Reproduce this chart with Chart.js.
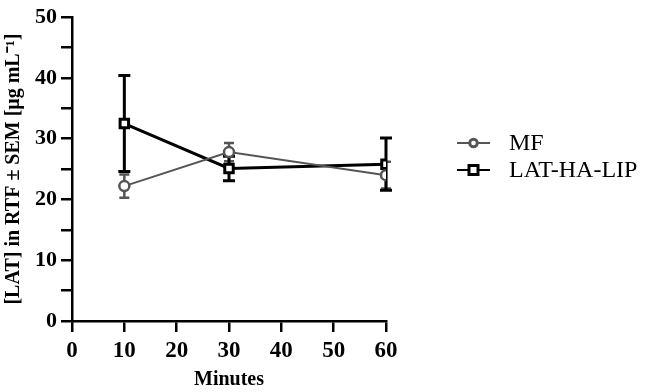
<!DOCTYPE html>
<html>
<head>
<meta charset="utf-8">
<script src="https://cdn.jsdelivr.net/npm/chart.js@4"></script>
<style>
html, body { margin: 0; padding: 0; background: #fff; }
</style>
</head>
<body>
<canvas id="latChart" width="645" height="392"></canvas>
<script>
// sampling times (minutes)
var minutes = [10, 30, 60];

// MF: mean and SEM
var mfMean = [22.2, 27.8, 24.0];
var mfSem = [1.9, 1.5, 2.2];

// LAT-HA-LIP: mean and SEM
var lipMean = [32.5, 25.1, 25.8];
var lipSem = [7.9, 2.0, 4.3];

var seriesNames = ['MF', 'LAT-HA-LIP'];
var semLists = [mfSem, lipSem];

var serif = "'Liberation Serif', 'Times New Roman', serif";

function points(xs, ys) {
    return xs.map(function (x, i) { return { x: x, y: ys[i] }; });
}

// draws the ± SEM whiskers behind the markers
var errorBars = {
    id: 'errorBars',
    beforeDatasetsDraw: function (chart) {
        var ctx = chart.ctx;
        var xs = chart.scales.x, ys = chart.scales.y;
        chart.data.datasets.forEach(function (ds, i) {
            var sem = semLists[i];
            var cap = i === 0 ? 5 : 6;
            ctx.save();
            ctx.strokeStyle = ds.borderColor;
            ctx.lineWidth = i === 0 ? 2.5 : 3;
            ds.data.forEach(function (p, j) {
                var x = xs.getPixelForValue(p.x);
                var top = ys.getPixelForValue(p.y + sem[j]);
                var bot = ys.getPixelForValue(p.y - sem[j]);
                ctx.beginPath();
                ctx.moveTo(x, top); ctx.lineTo(x, bot);
                ctx.moveTo(x - cap, top); ctx.lineTo(x + cap, top);
                ctx.moveTo(x - cap, bot); ctx.lineTo(x + cap, bot);
                ctx.stroke();
            });
            ctx.restore();
        });
    }
};

// legend on the right: short line with marker, then the name
var sideLegend = {
    id: 'sideLegend',
    afterDraw: function (chart) {
        var ctx = chart.ctx;
        var x0 = chart.chartArea.right + 71;
        var rowY = [143, 170];
        chart.data.datasets.forEach(function (ds, i) {
            var y = rowY[i];
            ctx.save();
            ctx.strokeStyle = ds.borderColor;
            ctx.lineWidth = 2;
            ctx.beginPath();
            ctx.moveTo(x0, y); ctx.lineTo(x0 + 33, y);
            ctx.stroke();
            ctx.fillStyle = '#fff';
            ctx.lineWidth = 3;
            ctx.beginPath();
            if (ds.pointStyle === 'circle') {
                ctx.arc(x0 + 16.5, y, 3.8, 0, Math.PI * 2);
            } else {
                ctx.rect(x0 + 12, y - 4.5, 9, 9);
            }
            ctx.fill();
            ctx.stroke();
            ctx.fillStyle = '#000';
            ctx.font = '24px ' + serif;
            ctx.textBaseline = 'middle';
            ctx.fillText(seriesNames[i], x0 + 52, y + 1);
            ctx.restore();
        });
    }
};

var ctx = document.getElementById('latChart').getContext('2d');
var latChart = new Chart(ctx, {
    type: 'line',
    data: {
        datasets: [{
            label: seriesNames[0],
            data: points(minutes, mfMean),
            borderColor: '#555555',
            backgroundColor: '#ffffff',
            borderWidth: 2,
            pointStyle: 'circle',
            pointRadius: 5,
            pointBorderWidth: 2.5,
            pointBackgroundColor: '#ffffff',
            pointBorderColor: '#555555'
        }, {
            label: seriesNames[1],
            data: points(minutes, lipMean),
            borderColor: '#000000',
            backgroundColor: '#ffffff',
            borderWidth: 3,
            pointStyle: 'rect',
            pointRadius: 6,
            pointBorderWidth: 3,
            pointBackgroundColor: '#ffffff',
            pointBorderColor: '#000000'
        }]
    },
    options: {
        responsive: false,
        animation: false,
        layout: { padding: { top: 8, right: 259, left: 0, bottom: 0 } },
        plugins: {
            legend: { display: false },
            tooltip: { enabled: false }
        },
        scales: {
            x: {
                type: 'linear',
                min: 0,
                max: 60,
                afterFit: function (scale) { scale.height = 71; },
                ticks: {
                    stepSize: 10,
                    color: '#000',
                    padding: 5,
                    font: { family: serif, size: 23, weight: 'bold' }
                },
                grid: { drawOnChartArea: false, drawTicks: true, tickLength: 11, color: '#000', lineWidth: 2.5 },
                border: { color: '#000', width: 2.5 },
                title: {
                    display: true,
                    text: 'Minutes',
                    color: '#000',
                    padding: { top: 4, bottom: 0 },
                    font: { family: serif, size: 20, weight: 'bold' }
                }
            },
            y: {
                min: 0,
                max: 50,
                afterFit: function (scale) { scale.width = 72; },
                ticks: {
                    stepSize: 5,
                    color: '#000',
                    padding: 4,
                    font: { family: serif, size: 22, weight: 'bold' },
                    callback: function (v) { return v % 10 === 0 ? v : ''; }
                },
                grid: { drawOnChartArea: false, drawTicks: true, tickLength: 11, color: '#000', lineWidth: 2.5 },
                border: { color: '#000', width: 2.5 },
                title: {
                    display: true,
                    text: '[LAT] in RTF ± SEM [μg mL⁻¹]',
                    color: '#000',
                    padding: { top: 2, bottom: 0 },
                    font: { family: serif, size: 20, weight: 'bold' }
                }
            }
        }
    },
    plugins: [errorBars, sideLegend]
});
</script>
</body>
</html>
